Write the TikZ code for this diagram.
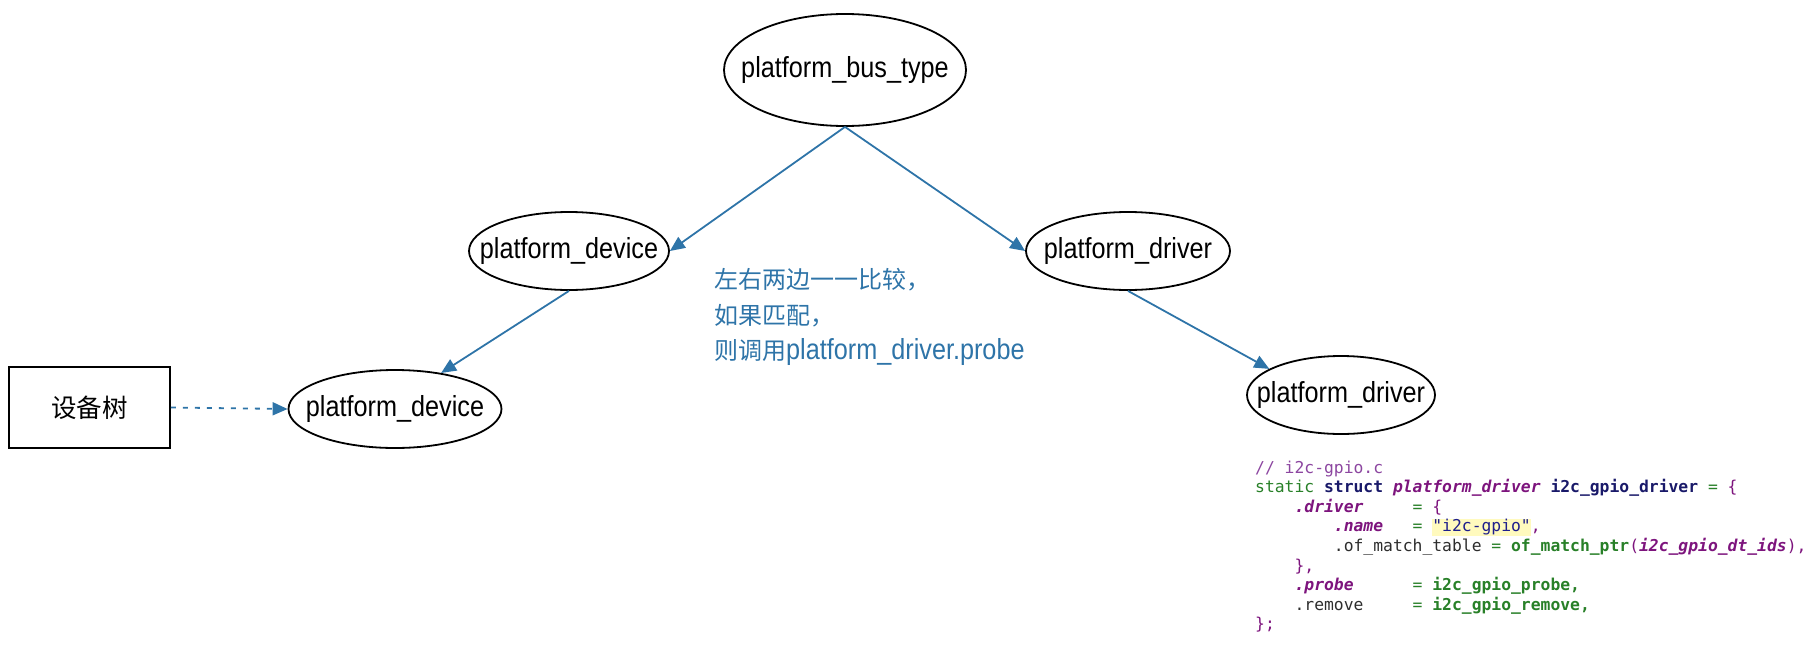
\documentclass[tikz,border=0pt]{standalone}
\usepackage{fontspec}
\usepackage{graphicx}
\setmainfont{Liberation Sans}
\newfontfamily\cjk{Noto Sans CJK SC}
\newfontfamily\codefont{DejaVu Sans Mono}
\usetikzlibrary{shapes.geometric,arrows.meta}
\definecolor{conn}{RGB}{46,116,168}
\definecolor{ccom}{RGB}{140,70,160}
\definecolor{cnavy}{RGB}{25,25,105}
\definecolor{cpurp}{RGB}{125,20,125}
\definecolor{cgreen}{RGB}{40,128,40}
\definecolor{cplain}{RGB}{45,45,45}
\definecolor{cstr}{RGB}{30,30,140}
\definecolor{chl}{RGB}{255,250,190}
\newcommand\cdCm[1]{\textcolor{ccom}{#1}}
\newcommand\cdKw[1]{\textcolor{cnavy}{\bfseries #1}}
\newcommand\cdTy[1]{\textcolor{cpurp}{\bfseries\itshape #1}}
\newcommand\cdGr[1]{\textcolor{cgreen}{#1}}
\newcommand\cdGb[1]{\textcolor{cgreen}{\bfseries #1}}
\newcommand\cdPu[1]{\textcolor{cpurp}{#1}}
\newcommand\cdPl[1]{\textcolor{cplain}{#1}}
\newcommand\cdSk[1]{\hspace*{#1\fontcharwd\font`x}}
\newcommand\cdHl[1]{{\setlength\fboxsep{0pt}\colorbox{chl}{\rule[-4pt]{0pt}{17pt}\textcolor{cstr}{#1}}}}
\newcommand\narrowtxt[1]{\scalebox{0.87}[1]{#1}}
\newcommand\elltext[1]{\makebox[0pt]{\narrowtxt{#1}}}
\tikzset{
  ell/.style={ellipse, draw=black, line width=1.8pt, inner sep=0pt,
    font=\fontsize{29}{34}\selectfont},
  conarrow/.style={draw=conn, line width=1.8pt, -{Triangle[length=15pt,width=13pt]}},
  codeline/.style={anchor=base west, inner sep=0pt,
    font=\codefont\fontsize{16.35}{19.6}\selectfont},
}
\begin{document}
\begin{tikzpicture}[x=1pt,y=-1pt]
\useasboundingbox (0,0) rectangle (1815,648);
\node[ell, minimum width=242pt, minimum height=112pt] (bus) at (845,70) {\elltext{platform\_bus\_type}};
\node[ell, minimum width=200pt, minimum height=78pt] (devA) at (569,251) {\elltext{platform\_device}};
\node[ell, minimum width=204pt, minimum height=78pt] (drvA) at (1128,251) {\elltext{platform\_driver}};
\node[ell, minimum width=213pt, minimum height=78pt] (devB) at (395,409) {\elltext{platform\_device}};
\node[ell, minimum width=188pt, minimum height=78pt] (drvB) at (1341,395) {\elltext{platform\_driver}};
\node[draw=black, line width=1.8pt, minimum width=161pt, minimum height=81pt, inner sep=0pt,
  font=\cjk\fontsize{25.5}{30}\selectfont] (dt) at (89.5,407.5) {设备树};

\draw[conarrow] (bus.south) -- (devA.east);
\draw[conarrow] (bus.south) -- (drvA.west);
\draw[conarrow] (devA.south) -- (devB.38);
\draw[conarrow] (drvA.south) -- (drvB.160);
\draw[conarrow, dash pattern=on 5pt off 7pt] (dt.east) -- (devB.west);

\node[anchor=west, align=left, inner sep=0pt, text=conn,
  font=\fontsize{24}{35.5}\selectfont] (note) at (714,317)
  {{\cjk 左右两边一一比较，}\\{\cjk 如果匹配，}\\{\cjk 则调用}\narrowtxt{\fontsize{29}{35.5}\selectfont platform\_driver.probe}};

\node[codeline] (c0) at (1255,473.0) {\cdCm{// i2c-gpio.c}};
\node[codeline] (c1) at (1255,492.6) {\cdGr{static}\cdSk{1}\cdKw{struct}\cdSk{1}\cdTy{platform\_driver}\cdSk{1}\cdKw{i2c\_gpio\_driver}\cdSk{1}\cdGr{=}\cdSk{1}\cdPu{\{}};
\node[codeline] (c2) at (1255,512.2) {\cdSk{4}\cdTy{.driver}\cdSk{5}\cdGr{=}\cdSk{1}\cdPu{\{}};
\node[codeline] (c3) at (1255,531.8) {\cdSk{8}\cdTy{.name}\cdSk{3}\cdGr{=}\cdSk{1}\cdHl{"i2c-gpio"}\cdPu{,}};
\node[codeline] (c4) at (1255,551.4) {\cdSk{8}\cdPl{.of\_match\_table}\cdSk{1}\cdGr{=}\cdSk{1}\cdGb{of\_match\_ptr}\cdPu{(}\cdTy{i2c\_gpio\_dt\_ids}\cdPu{),}};
\node[codeline] (c5) at (1255,571.0) {\cdSk{4}\cdPu{\},}};
\node[codeline] (c6) at (1255,590.6) {\cdSk{4}\cdTy{.probe}\cdSk{6}\cdGr{=}\cdSk{1}\cdGb{i2c\_gpio\_probe,}};
\node[codeline] (c7) at (1255,610.2) {\cdSk{4}\cdPl{.remove}\cdSk{5}\cdGr{=}\cdSk{1}\cdGb{i2c\_gpio\_remove,}};
\node[codeline] (c8) at (1255,629.8) {\cdPu{\};}};
\end{tikzpicture}
\end{document}
